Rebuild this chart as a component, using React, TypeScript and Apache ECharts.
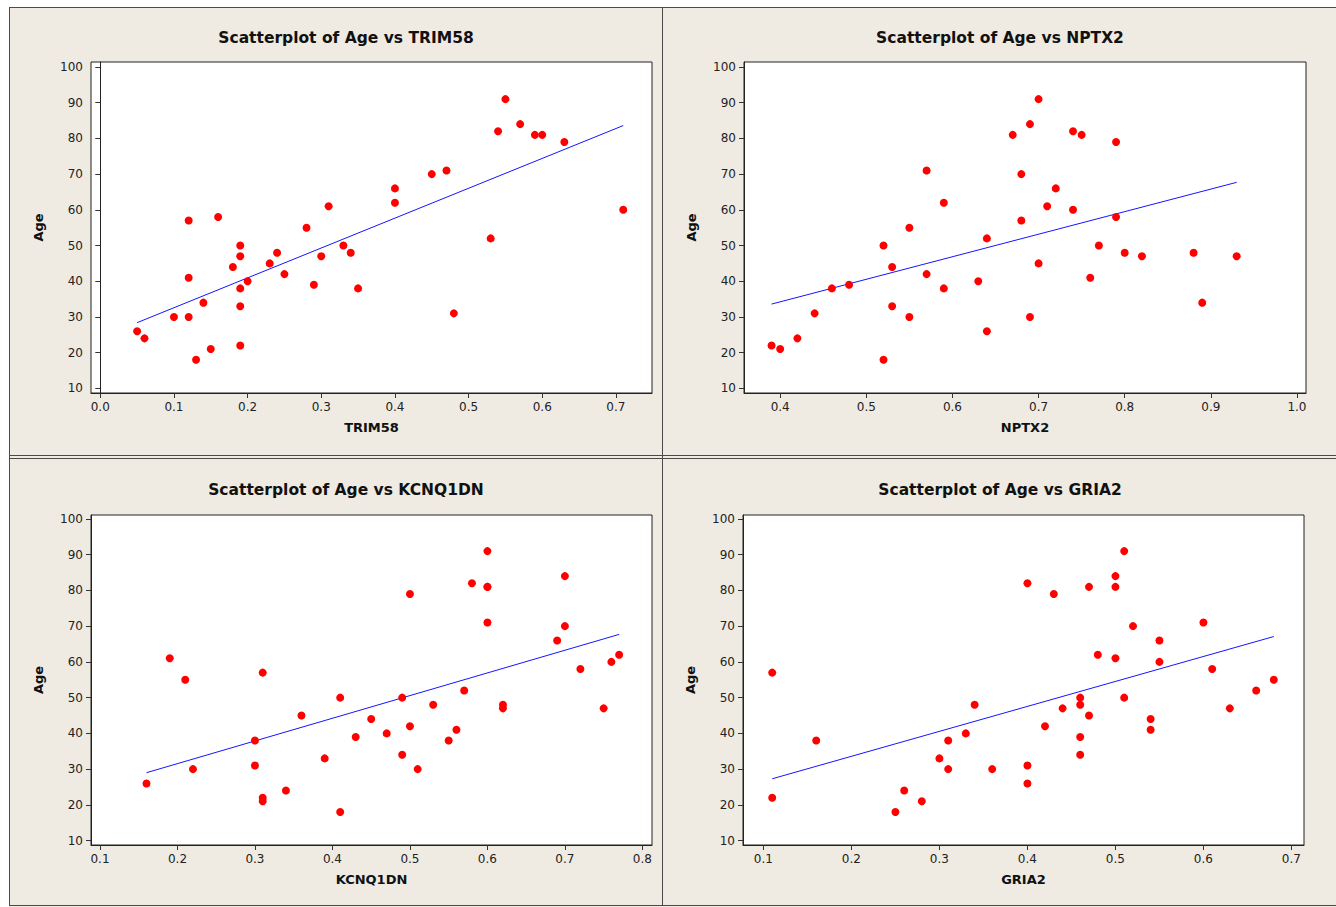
import React, { useEffect, useRef } from "react";
import * as echarts from "echarts";

const yTicks = [10, 20, 30, 40, 50, 60, 70, 80, 90, 100];

// Panel 1: TRIM58
const trim58X = [0.05, 0.06, 0.10, 0.12, 0.12, 0.12, 0.13, 0.14, 0.15, 0.16, 0.18, 0.19, 0.19, 0.19, 0.19, 0.19, 0.20, 0.23, 0.24, 0.25, 0.28, 0.29, 0.30, 0.31, 0.33, 0.34, 0.35, 0.40, 0.40, 0.45, 0.47, 0.48, 0.53, 0.54, 0.55, 0.57, 0.59, 0.60, 0.63, 0.71];
const trim58Age = [26, 24, 30, 57, 41, 30, 18, 34, 21, 58, 44, 50, 47, 38, 33, 22, 40, 45, 48, 42, 55, 39, 47, 61, 50, 48, 38, 66, 62, 70, 71, 31, 52, 82, 91, 84, 81, 81, 79, 60];
const trim58FitX = [0.05, 0.71];
const trim58FitY = [28.4, 83.6];
const trim58Ticks = [0.0, 0.1, 0.2, 0.3, 0.4, 0.5, 0.6, 0.7];

// Panel 2: NPTX2
const nptx2X = [0.39, 0.40, 0.42, 0.44, 0.46, 0.48, 0.52, 0.52, 0.53, 0.53, 0.55, 0.55, 0.57, 0.57, 0.59, 0.59, 0.63, 0.64, 0.64, 0.67, 0.68, 0.68, 0.69, 0.69, 0.70, 0.70, 0.71, 0.72, 0.74, 0.74, 0.75, 0.76, 0.77, 0.79, 0.79, 0.80, 0.82, 0.88, 0.89, 0.93];
const nptx2Age = [22, 21, 24, 31, 38, 39, 50, 18, 44, 33, 55, 30, 71, 42, 62, 38, 40, 52, 26, 81, 70, 57, 84, 30, 91, 45, 61, 66, 82, 60, 81, 41, 50, 79, 58, 48, 47, 48, 34, 47];
const nptx2FitX = [0.39, 0.93];
const nptx2FitY = [33.6, 67.7];
const nptx2Ticks = [0.4, 0.5, 0.6, 0.7, 0.8, 0.9, 1.0];

// Panel 3: KCNQ1DN
const kcnq1dnX = [0.16, 0.19, 0.21, 0.22, 0.30, 0.30, 0.31, 0.31, 0.31, 0.34, 0.36, 0.39, 0.41, 0.41, 0.43, 0.45, 0.47, 0.49, 0.49, 0.50, 0.50, 0.51, 0.53, 0.55, 0.56, 0.57, 0.58, 0.60, 0.60, 0.60, 0.60, 0.62, 0.62, 0.69, 0.70, 0.70, 0.72, 0.75, 0.76, 0.77];
const kcnq1dnAge = [26, 61, 55, 30, 38, 31, 57, 22, 21, 24, 45, 33, 50, 18, 39, 44, 40, 50, 34, 79, 42, 30, 48, 38, 41, 52, 82, 91, 81, 81, 71, 48, 47, 66, 84, 70, 58, 47, 60, 62];
const kcnq1dnFitX = [0.16, 0.77];
const kcnq1dnFitY = [29.0, 67.7];
const kcnq1dnTicks = [0.1, 0.2, 0.3, 0.4, 0.5, 0.6, 0.7, 0.8];

// Panel 4: GRIA2
const gria2X = [0.11, 0.11, 0.16, 0.25, 0.26, 0.28, 0.30, 0.31, 0.31, 0.33, 0.34, 0.36, 0.40, 0.40, 0.40, 0.42, 0.43, 0.44, 0.46, 0.46, 0.46, 0.46, 0.47, 0.47, 0.48, 0.50, 0.50, 0.50, 0.51, 0.51, 0.52, 0.54, 0.54, 0.55, 0.55, 0.60, 0.61, 0.63, 0.66, 0.68];
const gria2Age = [57, 22, 38, 18, 24, 21, 33, 38, 30, 40, 48, 30, 82, 31, 26, 42, 79, 47, 50, 48, 39, 34, 81, 45, 62, 84, 81, 61, 91, 50, 70, 44, 41, 66, 60, 71, 58, 47, 52, 55];
const gria2FitX = [0.11, 0.68];
const gria2FitY = [27.3, 67.1];
const gria2Ticks = [0.1, 0.2, 0.3, 0.4, 0.5, 0.6, 0.7];

const panels = [
  { name: "TRIM58", xs: trim58X, ys: trim58Age, fx: trim58FitX, fy: trim58FitY, ticks: trim58Ticks,
    xMin: -0.0126, xMax: 0.749, yMin: 8.7, yMax: 101.4,
    grid: { left: 91, top: 62, width: 561, height: 331 }, titleX: 346, titleY: 38 },
  { name: "NPTX2", xs: nptx2X, ys: nptx2Age, fx: nptx2FitX, fy: nptx2FitY, ticks: nptx2Ticks,
    xMin: 0.358, xMax: 1.0105, yMin: 8.7, yMax: 101.4,
    grid: { left: 744, top: 62, width: 562, height: 331 }, titleX: 1000, titleY: 38 },
  { name: "KCNQ1DN", xs: kcnq1dnX, ys: kcnq1dnAge, fx: kcnq1dnFitX, fy: kcnq1dnFitY, ticks: kcnq1dnTicks,
    xMin: 0.0884, xMax: 0.8124, yMin: 8.77, yMax: 101.1,
    grid: { left: 91, top: 515, width: 561, height: 330 }, titleX: 346, titleY: 490 },
  { name: "GRIA2", xs: gria2X, ys: gria2Age, fx: gria2FitX, fy: gria2FitY, ticks: gria2Ticks,
    xMin: 0.0768, xMax: 0.7143, yMin: 8.77, yMax: 101.1,
    grid: { left: 743, top: 515, width: 561, height: 330 }, titleX: 1000, titleY: 490 },
];

const FONT = "'DejaVu Sans', Tahoma, sans-serif";
const BG = "#EFEBE2";
const LINE = "#4a4a4a";

export default function App() {
  const ref = useRef<HTMLDivElement>(null);
  useEffect(() => {
    if (!ref.current) return;
    const chart = echarts.init(ref.current, undefined, { renderer: "svg" });

    const grids = panels.map((p) => ({
      ...p.grid,
      show: true,
      backgroundColor: "#ffffff",
      borderColor: "#222",
      borderWidth: 1,
      containLabel: false,
    }));

    const xAxes = panels.map((p, i) => ({
      type: "value",
      gridIndex: i,
      min: p.xMin,
      max: p.xMax,
      name: p.name,
      nameLocation: "middle",
      nameGap: 28,
      nameTextStyle: { fontFamily: FONT, fontWeight: "bold", fontSize: 13, color: "#111" },
      axisLine: { show: true, lineStyle: { color: "#222", width: 1 } },
      axisTick: { show: true, length: 5, customValues: p.ticks, lineStyle: { color: "#333" } },
      axisLabel: {
        show: true,
        customValues: p.ticks,
        margin: 8,
        fontFamily: FONT,
        fontSize: 12,
        color: "#222",
        formatter: (v: number) => v.toFixed(1),
      },
      splitLine: { show: false },
    }));

    const yAxes = panels.map((p, i) => ({
      type: "value",
      gridIndex: i,
      min: p.yMin,
      max: p.yMax,
      name: "Age",
      nameLocation: "middle",
      nameGap: 46,
      nameTextStyle: { fontFamily: FONT, fontWeight: "bold", fontSize: 13, color: "#111" },
      axisLine: { show: true, lineStyle: { color: "#222", width: 1 } },
      axisTick: { show: true, length: 5, customValues: yTicks, lineStyle: { color: "#333" } },
      axisLabel: {
        show: true,
        customValues: yTicks,
        margin: 8,
        fontFamily: FONT,
        fontSize: 12,
        color: "#222",
        formatter: (v: number) => String(Math.round(v)),
      },
      splitLine: { show: false },
    }));

    const series: any[] = [];
    panels.forEach((p, i) => {
      series.push({
        type: "line",
        xAxisIndex: i,
        yAxisIndex: i,
        data: p.fx.map((x, k) => [x, p.fy[k]]),
        symbol: "none",
        lineStyle: { color: "#1515ff", width: 1 },
        z: 2,
      });
      series.push({
        type: "scatter",
        xAxisIndex: i,
        yAxisIndex: i,
        data: p.xs.map((x, k) => [x, p.ys[k]]),
        symbol: "circle",
        symbolSize: 8,
        itemStyle: { color: "#ff0000", opacity: 1 },
        z: 3,
      });
    });

    const ln = (x1: number, y1: number, x2: number, y2: number) => ({
      type: "line",
      shape: { x1, y1, x2, y2 },
      style: { stroke: LINE, lineWidth: 1 },
      silent: true,
    });

    const graphic: any[] = [
      { type: "rect", shape: { x: 0, y: 0, width: 1336, height: 7 }, style: { fill: "#ffffff" }, silent: true },
      { type: "rect", shape: { x: 0, y: 0, width: 9, height: 907 }, style: { fill: "#ffffff" }, silent: true },
      ln(9, 7.5, 1336, 7.5),
      ln(9.5, 7, 9.5, 906),
      ln(662.5, 7, 662.5, 906),
      ln(9, 455.5, 1336, 455.5),
      ln(9, 458.5, 1336, 458.5),
      ln(9, 905.5, 1336, 905.5),
      ...panels.map((p) => ({
        type: "text",
        x: p.titleX,
        y: p.titleY,
        style: {
          text: "Scatterplot of Age vs " + p.name,
          fill: "#111",
          fontFamily: FONT,
          fontWeight: "bold",
          fontSize: 15.5,
          textAlign: "center",
          textVerticalAlign: "middle",
        },
        silent: true,
      })),
    ];

    chart.setOption({
      animation: false,
      backgroundColor: BG,
      grid: grids,
      xAxis: xAxes,
      yAxis: yAxes,
      series,
      graphic,
    });
    return () => chart.dispose();
  }, []);

  return (
    <div
      ref={ref}
      style={{ position: "fixed", left: 0, top: 0, width: 1336, height: 907 }}
    />
  );
}
